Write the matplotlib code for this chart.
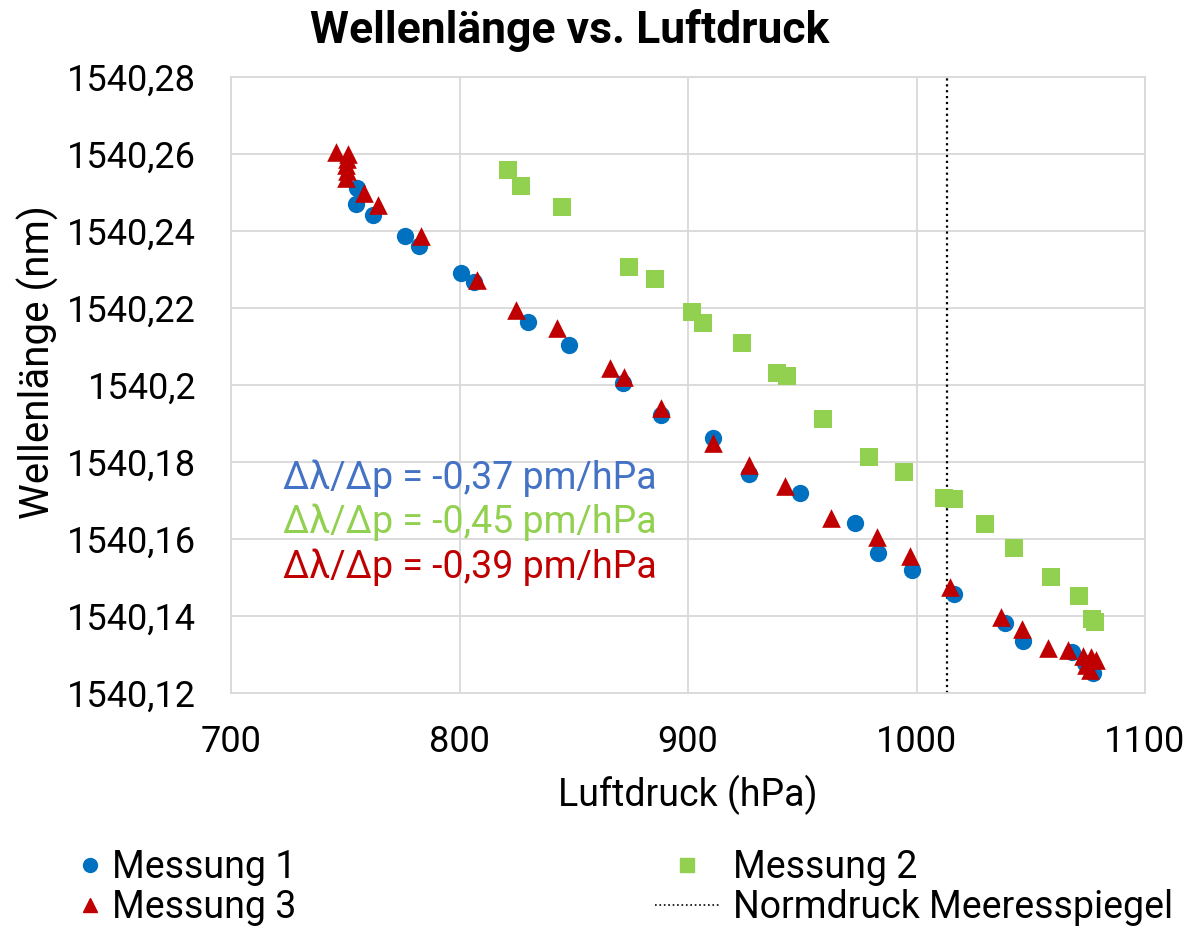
import matplotlib
matplotlib.use("Agg")
from matplotlib import pyplot as plt
from matplotlib.ticker import FuncFormatter, MultipleLocator
from matplotlib.lines import Line2D

plt.rcParams['font.family'] = ['Roboto', 'DejaVu Sans']

# Messung 1 (blue circles)
p1 = [755.1, 754.7, 762.1, 776.1, 782.3, 800.7, 806.3, 830.0, 847.9, 871.6,
      888.2, 911.0, 926.7, 949.0, 973.1, 983.2, 998.0, 1016.4, 1038.7, 1046.6,
      1068.0, 1073.7, 1077.2]
w1 = [1540.2512, 1540.2470, 1540.2442, 1540.2387, 1540.2361, 1540.2291, 1540.2268,
      1540.2164, 1540.2104, 1540.2005, 1540.1922, 1540.1862, 1540.1769, 1540.1719,
      1540.1642, 1540.1564, 1540.1520, 1540.1457, 1540.1382, 1540.1335, 1540.1306,
      1540.1278, 1540.1252]

# Messung 2 (green squares)
p2 = [821.2, 826.9, 844.9, 874.2, 885.6, 901.8, 906.6, 923.6, 939.0, 943.3,
      959.1, 979.2, 994.5, 1012.0, 1016.4, 1030.0, 1042.7, 1058.9, 1071.1,
      1076.8, 1078.1]
w2 = [1540.2558, 1540.2517, 1540.2462, 1540.2307, 1540.2275, 1540.2190, 1540.2161,
      1540.2109, 1540.2031, 1540.2023, 1540.1912, 1540.1813, 1540.1774, 1540.1707,
      1540.1704, 1540.1639, 1540.1577, 1540.1501, 1540.1452, 1540.1392, 1540.1384]

# Messung 3 (red triangles)
p3 = [746.0, 751.2, 750.8, 750.3, 750.8, 750.3, 758.0, 764.3, 783.2, 807.7,
      824.7, 842.7, 865.9, 872.0, 888.2, 911.0, 926.7, 942.5, 962.6, 982.7,
      997.2, 1014.7, 1037.0, 1046.2, 1057.5, 1066.3, 1072.9, 1076.4, 1078.6,
      1074.2, 1075.9]
w3 = [1540.2605, 1540.2600, 1540.2587, 1540.2571, 1540.2556, 1540.2538, 1540.2499,
      1540.2468, 1540.2387, 1540.2273, 1540.2195, 1540.2148, 1540.2044, 1540.2021,
      1540.1940, 1540.1849, 1540.1792, 1540.1738, 1540.1655, 1540.1605, 1540.1556,
      1540.1475, 1540.1397, 1540.1366, 1540.1317, 1540.1312, 1540.1296, 1540.1294,
      1540.1286, 1540.1273, 1540.1260]

normdruck = 1013.25
slopes = ['Δλ/Δp = -0,37 pm/hPa', 'Δλ/Δp = -0,45 pm/hPa', 'Δλ/Δp = -0,39 pm/hPa']

c_blue = '#0070C0'
c_green = '#92D050'
c_red = '#C00000'
grid_c = '#D9D9D9'

W, H = 1191, 926
fig = plt.figure(figsize=(W / 100, H / 100), dpi=100)
ax = fig.add_axes([231 / W, 1 - 693 / H, (1145 - 231) / W, (693 - 77) / H])

ax.scatter(p1, w1, s=155, marker='o', color=c_blue, zorder=3, linewidths=0)
ax.scatter(p2, w2, s=155, marker='s', color=c_green, zorder=3, linewidths=0)
ax.scatter(p3, w3, s=180, marker='^', color=c_red, zorder=4, linewidths=0)
ax.axvline(normdruck, color='black', linestyle=':', linewidth=1.6, zorder=2)

ax.set_xlim(700, 1100)
ax.set_ylim(1540.12, 1540.28)
ax.xaxis.set_major_locator(MultipleLocator(100))
ax.yaxis.set_major_locator(MultipleLocator(0.02))


def de_fmt(v, pos):
    s = f'{v:.2f}'.rstrip('0').rstrip('.')
    return s.replace('.', ',')


ax.yaxis.set_major_formatter(FuncFormatter(de_fmt))
ax.grid(True, color=grid_c, linewidth=1.3, zorder=0)
ax.set_axisbelow(True)
for sp in ax.spines.values():
    sp.set_color(grid_c)
    sp.set_linewidth(1.3)
ax.tick_params(axis='both', length=0, labelsize=26)
ax.tick_params(axis='x', pad=22)
ax.tick_params(axis='y', pad=25)

ax.set_xlabel('Luftdruck (hPa)', fontsize=27)
ax.xaxis.set_label_coords(0.5, -(795 - 693) / (693 - 77))
ax.xaxis.label.set_va('center')
ax.set_ylabel('Wellenlänge (nm)', fontsize=29)
ax.yaxis.set_label_coords(-(231 - 38) / (1145 - 231), (693 - 362) / (693 - 77))
ax.yaxis.label.set_va('center')

fig.text(570 / W, 1 - 31 / H, 'Wellenlänge vs. Luftdruck', fontsize=32,
         fontweight='bold', ha='center', va='center')

for txt, col, yp in zip(slopes, ['#4472C4', c_green, c_red], [478, 522, 567]):
    fig.text(283 / W, 1 - yp / H, txt, color=col, fontsize=27,
             ha='left', va='center')

leg_y = 1 - 888 / H
h_a = [Line2D([], [], marker='o', linestyle='none', color=c_blue, markersize=10),
       Line2D([], [], marker='^', linestyle='none', color=c_red, markersize=10)]
fig.legend(h_a, ['Messung 1', 'Messung 3'], loc='center left',
           bbox_to_anchor=(71 / W, leg_y), frameon=False, fontsize=27,
           handlelength=1.0, handletextpad=0.08, labelspacing=0.08,
           borderpad=0, borderaxespad=0)
h_b = [Line2D([], [], marker='s', linestyle='none', color=c_green, markersize=10),
       Line2D([], [], linestyle=':', color='black', linewidth=1.2)]
fig.legend(h_b, ['Messung 2', 'Normdruck Meeresspiegel'], loc='center left',
           bbox_to_anchor=(655 / W, leg_y), frameon=False, fontsize=27,
           handlelength=1.73, handletextpad=0.35, labelspacing=0.08,
           borderpad=0, borderaxespad=0)

fig.savefig('out.png', dpi=100)
